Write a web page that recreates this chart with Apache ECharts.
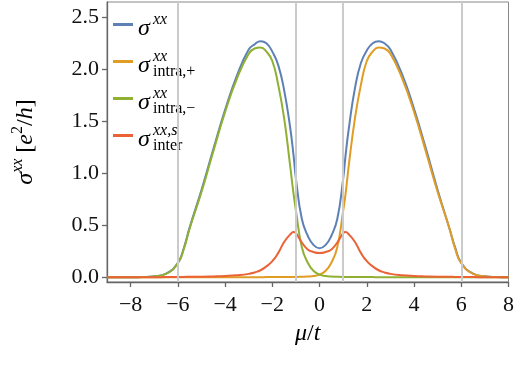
<!DOCTYPE html>
<html>
<head>
<meta charset="utf-8">
<script src="https://cdn.jsdelivr.net/npm/echarts@6/dist/echarts.min.js"></script>
<style>
  html, body { margin: 0; padding: 0; background: #fff; }
  #chart { width: 517px; height: 370px; }
</style>
</head>
<body>
<div id="chart"></div>
<script>
// mu/t sample positions
const muValues = [-9, -8, -7.5, -7, -6.5, -6, -5.75, -5.5, -5, -4.5, -4, -3.5, -3, -2.75, -2.5, -2.25, -2, -1.75, -1.5, -1.25, -1.1, -1, -0.75, -0.5, -0.25,
  0, 0.25, 0.5, 0.75, 1, 1.1, 1.25, 1.5, 1.75, 2, 2.25, 2.5, 2.75, 3, 3.5, 4, 4.5, 5, 5.5, 5.75, 6, 6.5, 7, 7.5, 8];

const sigmaTotal = [0, 0.001, 0.003, 0.01, 0.035, 0.14, 0.28, 0.48, 0.84, 1.23, 1.61, 1.94, 2.19, 2.24, 2.27, 2.25, 2.17, 2.04, 1.8, 1.45, 1.17, 0.95, 0.56, 0.4, 0.31,
  0.28, 0.31, 0.4, 0.56, 0.95, 1.17, 1.45, 1.82, 2.06, 2.18, 2.25, 2.27, 2.25, 2.19, 1.95, 1.62, 1.24, 0.84, 0.47, 0.28, 0.14, 0.035, 0.01, 0.003, 0.001];

const sigmaIntraPlus = [0, 0, 0, 0, 0, 0, 0, 0, 0, 0, 0, 0.001, 0.001, 0.001, 0.001, 0.002, 0.002, 0.002, 0.003, 0.003, 0.004, 0.004, 0.005, 0.007, 0.012,
  0.026, 0.06, 0.14, 0.29, 0.64, 0.8, 1.1, 1.53, 1.85, 2.08, 2.17, 2.21, 2.2, 2.15, 1.91, 1.59, 1.21, 0.82, 0.47, 0.27, 0.135, 0.033, 0.009, 0.003, 0.001];

const sigmaIntraMinus = [0, 0.001, 0.003, 0.009, 0.033, 0.135, 0.27, 0.47, 0.82, 1.21, 1.59, 1.91, 2.15, 2.2, 2.21, 2.17, 2.08, 1.85, 1.53, 1.08, 0.8, 0.64, 0.29, 0.14, 0.06,
  0.026, 0.012, 0.007, 0.005, 0.004, 0.004, 0.003, 0.003, 0.002, 0.002, 0.002, 0.001, 0.001, 0.001, 0.001, 0, 0, 0, 0, 0, 0, 0, 0, 0, 0];

const sigmaInter = [0, 0.0005, 0.001, 0.0015, 0.002, 0.003, 0.004, 0.005, 0.006, 0.009, 0.013, 0.02, 0.033, 0.047, 0.068, 0.105, 0.155, 0.235, 0.34, 0.41, 0.435, 0.425, 0.335, 0.268, 0.243,
  0.234, 0.243, 0.268, 0.335, 0.425, 0.435, 0.41, 0.34, 0.235, 0.155, 0.105, 0.068, 0.047, 0.033, 0.02, 0.013, 0.009, 0.006, 0.005, 0.004, 0.003, 0.002, 0.0015, 0.001, 0.0005];

const seriesNames = ['total', 'intraPlus', 'intraMinus', 'inter'];
const supLabels = ['xx', 'xx', 'xx', 'xx,s'];
const subLabels = ['', 'intra,+', 'intra,−', 'inter'];
const colors = ['#5e81b5', '#e19c24', '#8fb032', '#eb6235'];

const xTicks = [-8, -6, -4, -2, 0, 2, 4, 6, 8];
const yTicks = [0, 0.5, 1, 1.5, 2, 2.5];
const refLines = [-6, -1, 1, 6];

const font = 'Liberation Serif';

function pairs(ys) {
  return muValues.map(function (x, i) { return [x, ys[i]]; });
}

let chart = echarts.init(document.getElementById('chart'));

let curves = [sigmaTotal, sigmaIntraPlus, sigmaIntraMinus, sigmaInter];
let series = [
  {
    // grey guide lines, drawn first so the curves sit on top
    type: 'line',
    data: [],
    silent: true,
    markLine: {
      silent: true,
      symbol: ['none', 'none'],
      label: { show: false },
      lineStyle: { color: '#cbcbcb', width: 2, type: 'solid' },
      data: refLines.map(function (v) { return { xAxis: v }; })
    }
  }
];
curves.forEach(function (ys, i) {
  series.push({
    name: seriesNames[i],
    type: 'line',
    data: pairs(ys),
    symbol: 'none',
    smooth: 0.5,
    lineStyle: { color: colors[i], width: 2 },
    itemStyle: { color: colors[i] }
  });
});

let option = {
  animation: false,
  backgroundColor: '#fff',
  grid: {
    left: 107,
    right: 8,
    top: 2,
    bottom: 88,
    show: true,
    borderColor: '#888',
    borderWidth: 1
  },
  legend: {
    orient: 'vertical',
    left: 113,
    top: 12,
    padding: 0,
    itemWidth: 20,
    itemHeight: 3,
    itemGap: 6,
    icon: 'rect',
    data: seriesNames,
    formatter: function (name) {
      let i = seriesNames.indexOf(name);
      return '{sp| }{sup|' + supLabels[i] + '}\n{s|σ}{sub|' + subLabels[i] + '}';
    },
    textStyle: {
      fontFamily: font,
      color: '#000',
      rich: {
        sp: { fontFamily: font, fontSize: 16, width: 15, lineHeight: 14, height: 1, verticalAlign: 'bottom' },
        sup: { fontFamily: font, fontSize: 16, fontStyle: 'italic', lineHeight: 14, height: 1, verticalAlign: 'bottom' },
        s: { fontFamily: font, fontSize: 24, fontStyle: 'italic', width: 15, lineHeight: 22, height: 17, verticalAlign: 'top' },
        sub: { fontFamily: font, fontSize: 16, lineHeight: 22, height: 15, verticalAlign: 'bottom' }
      }
    }
  },
  xAxis: {
    type: 'value',
    min: -9,
    max: 8,
    name: '{i|μ}{n|/}{i|t}',
    nameLocation: 'middle',
    nameGap: 38,
    nameTextStyle: {
      fontFamily: font,
      rich: {
        i: { fontFamily: font, fontSize: 24, fontStyle: 'italic', color: '#000' },
        n: { fontFamily: font, fontSize: 24, color: '#000' }
      }
    },
    axisLine: { onZero: false, lineStyle: { color: '#666', width: 1.3 } },
    axisTick: { inside: false, length: 5, customValues: xTicks, lineStyle: { color: '#666', width: 1.3 } },
    axisLabel: {
      customValues: xTicks,
      margin: 11,
      fontFamily: font,
      fontSize: 22,
      lineHeight: 24,
      color: '#111',
      formatter: function (v) { return v < 0 ? '−' + (-v) : String(v); }
    },
    splitLine: { show: false }
  },
  yAxis: {
    type: 'value',
    min: -0.045,
    max: 2.647,
    name: '{s|σ}{sup|xx}{n| [}{i|e}{sup2|2}{n|/}{i|h}{n|]}',
    nameLocation: 'middle',
    nameRotate: 90,
    nameGap: 66,
    nameTextStyle: {
      fontFamily: font,
      rich: {
        s: { fontFamily: font, fontSize: 24, fontStyle: 'italic', lineHeight: 30, color: '#000' },
        sup: { fontFamily: font, fontSize: 16, fontStyle: 'italic', lineHeight: 30, height: 13, verticalAlign: 'top', color: '#000' },
        sup2: { fontFamily: font, fontSize: 16, lineHeight: 30, height: 13, verticalAlign: 'top', color: '#000' },
        i: { fontFamily: font, fontSize: 24, fontStyle: 'italic', lineHeight: 30, color: '#000' },
        n: { fontFamily: font, fontSize: 24, lineHeight: 30, color: '#000' }
      }
    },
    axisLine: { show: true, onZero: false, lineStyle: { color: '#666', width: 1.3 } },
    axisTick: { show: true, inside: false, length: 5, customValues: yTicks, lineStyle: { color: '#666', width: 1.3 } },
    axisLabel: {
      customValues: yTicks,
      margin: 8,
      fontFamily: font,
      fontSize: 22,
      color: '#111',
      formatter: function (v) { return v.toFixed(1); }
    },
    splitLine: { show: false }
  },
  series: series
};

chart.setOption(option);
window.addEventListener('resize', function () {
  chart.resize();
});
</script>
</body>
</html>
